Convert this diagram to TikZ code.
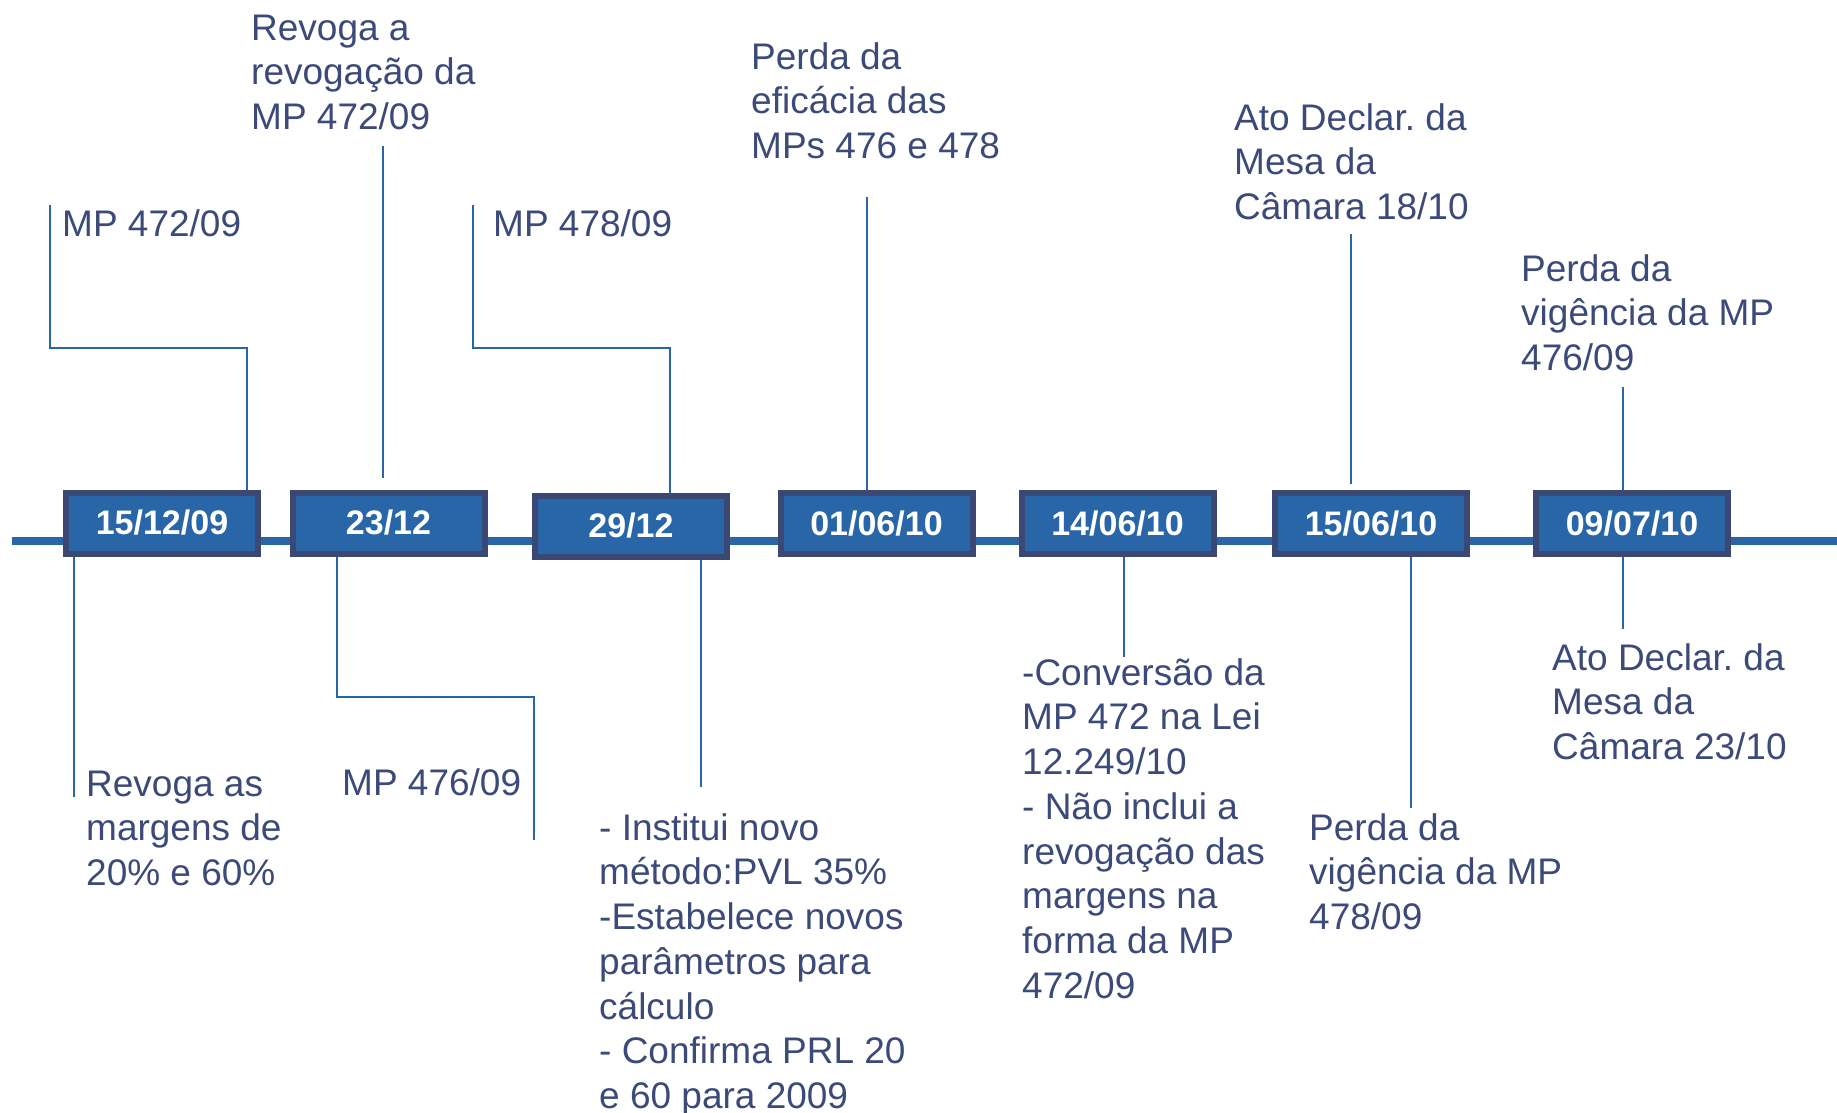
\documentclass[tikz,border=0pt]{standalone}
\usepackage{fontspec}
\setmainfont{Liberation Sans}
\newfontfamily\datefont{Liberation Sans}
\definecolor{tc}{RGB}{59,74,120}
\definecolor{lc}{RGB}{40,102,168}
\definecolor{bc}{RGB}{58,72,115}
\newcommand{\firstln}{\rule{0pt}{30pt}}
\frenchspacing
\begin{document}
\begin{tikzpicture}[x=1pt,y=-1pt,
  txt/.style={anchor=north west, inner sep=0pt, align=left, text=tc, font=\fontsize{37}{44.7}\selectfont},
  datebox/.style={draw=bc, fill=lc, line width=6pt, minimum width=192pt, minimum height=61pt, inner sep=0pt,
     text=white, font=\datefont\bfseries\fontsize{34}{40}\selectfont},
  conn/.style={draw=lc, line width=2pt},
  axis/.style={draw=lc, line width=8pt}]
\useasboundingbox (0,0) rectangle (1837,1113);
\fill[white] (0,0) rectangle (1837,1113);
% timeline
\coordinate (axL) at (12,541);
\coordinate (axR) at (1837,541);
\draw[axis] (axL) -- (axR);
% boxes
\node[datebox] (b1) at (162,523) {15/12/09};
\node[datebox] (b2) at (388.5,523) {23/12};
\node[datebox] (b3) at (631,526) {29/12};
\node[datebox] (b4) at (876.5,523.5) {01/06/10};
\node[datebox] (b5) at (1117.5,523.5) {14/06/10};
\node[datebox] (b6) at (1371,523.5) {15/06/10};
\node[datebox] (b7) at (1632,523.5) {09/07/10};
% 1 top
\coordinate (t1a) at (50,205);
\coordinate (t1b) at (247,348);
\draw[conn] (t1a) |- (t1b) -- (t1b |- b1.north);
\node[txt] (l1) at (62,206) {\firstln MP 472/09};
% 1 bottom
\coordinate (d1) at (74,797);
\draw[conn] (d1 |- b1.south) -- (d1);
\node[txt] (l2) at (86,766) {\firstln Revoga as\\margens de\\20\% e 60\%};
% 2 top
\coordinate (t2a) at (383,146);
\coordinate (t2b) at (383,478);
\draw[conn] (t2a) -- (t2b);
\node[txt] (l3) at (251,10) {\firstln Revoga a\\revogação da\\MP 472/09};
% 2 bottom
\coordinate (d2a) at (337,697);
\coordinate (d2b) at (534,840);
\draw[conn] (d2a |- b2.south) -- (d2a) -| (d2b);
\node[txt] (l4) at (342,765) {\firstln MP 476/09};
% 3 top
\coordinate (t3a) at (473,205);
\coordinate (t3b) at (670,348);
\draw[conn] (t3a) |- (t3b) -- (t3b |- b3.north);
\node[txt] (l5) at (493,206) {\firstln MP 478/09};
% 3 bottom
\coordinate (d3) at (701,787);
\draw[conn] (d3 |- b3.south) -- (d3);
\node[txt] (l6) at (599,810) {\firstln - Institui novo\\método:PVL 35\%\\-Estabelece novos\\parâmetros para\\cálculo\\- Confirma PRL 20\\e 60 para 2009};
% 4 top
\coordinate (t4) at (867,197);
\draw[conn] (t4) -- (t4 |- b4.north);
\node[txt] (l7) at (751,39) {\firstln Perda da\\eficácia das\\MPs 476 e 478};
% 5 bottom
\coordinate (d5) at (1124,657);
\draw[conn] (d5 |- b5.south) -- (d5);
\node[txt] (l8) at (1022,655) {\firstln -Conversão da\\MP 472 na Lei\\12.249/10\\- Não inclui a\\revogação das\\margens na\\forma da MP\\472/09};
% 6 top
\coordinate (t6a) at (1351,234);
\coordinate (t6b) at (1351,484);
\draw[conn] (t6a) -- (t6b);
\node[txt] (l9) at (1234,100) {\firstln Ato Declar. da\\Mesa da\\Câmara 18/10};
% 6 bottom
\coordinate (d6) at (1411,808);
\draw[conn] (d6 |- b6.south) -- (d6);
\node[txt] (l10) at (1309,810) {\firstln Perda da\\vigência da MP\\478/09};
% 7 top
\coordinate (t7) at (1623,387);
\draw[conn] (t7) -- (t7 |- b7.north);
\node[txt] (l11) at (1521,251) {\firstln Perda da\\vigência da MP\\476/09};
% 7 bottom
\coordinate (d7) at (1623,629);
\draw[conn] (d7 |- b7.south) -- (d7);
\node[txt] (l12) at (1552,640) {\firstln Ato Declar. da\\Mesa da\\Câmara 23/10};
\end{tikzpicture}
\end{document}
